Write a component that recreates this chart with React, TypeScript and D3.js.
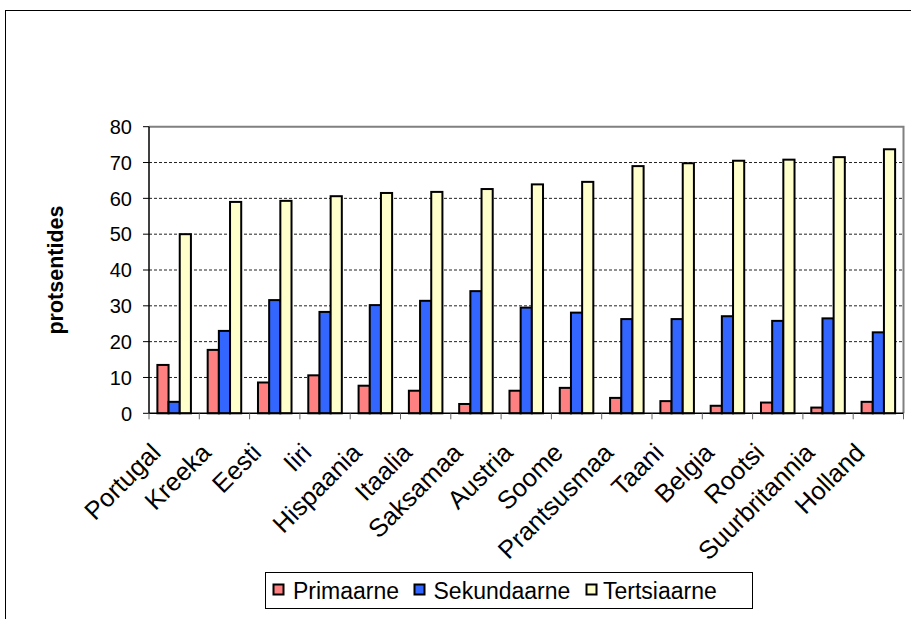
import React from 'react';
import * as d3 from 'd3';

const countries = [
  'Portugal', 'Kreeka', 'Eesti', 'Iiri', 'Hispaania', 'Itaalia', 'Saksamaa', 'Austria',
  'Soome', 'Prantsusmaa', 'Taani', 'Belgia', 'Rootsi', 'Suurbritannia', 'Holland',
];
const primaarne = [13.5, 17.7, 8.6, 10.6, 7.7, 6.3, 2.6, 6.3, 7.1, 4.3, 3.4, 2.1, 3.0, 1.6, 3.2];
const sekundaarne = [3.2, 23.0, 31.6, 28.3, 30.2, 31.4, 34.1, 29.5, 28.1, 26.3, 26.3, 27.1, 25.8, 26.5, 22.6];
const tertsiaarne = [50.0, 59.0, 59.3, 60.6, 61.5, 61.8, 62.6, 63.9, 64.6, 69.0, 69.8, 70.5, 70.8, 71.5, 73.7];
const seriesNames = ['Primaarne', 'Sekundaarne', 'Tertsiaarne'];
const seriesColors = ['#FF8080', '#3366FF', '#FFFFCC'];
const yTicks = [0, 10, 20, 30, 40, 50, 60, 70, 80];

const W = 911;
const H = 619;
const FONT = '"Liberation Sans", Arial, sans-serif';

export default function App() {
  const left = 149;
  const right = 903.5;
  const top = 126.7;
  const bottom = 413.3;

  const x = d3.scaleBand<string>().domain(countries).range([left, right]).padding(0);
  const inner = d3
    .scaleBand<string>()
    .domain(seriesNames)
    .range([0, x.bandwidth()])
    .paddingInner(0)
    .paddingOuter(0.75);
  const y = d3.scaleLinear().domain([0, 80]).range([bottom, top]);

  const values = [primaarne, sekundaarne, tertsiaarne];

  // legend layout
  const legItems = [
    { sw: 273.5, tx: 293 },
    { sw: 414.5, tx: 433.5 },
    { sw: 586.5, tx: 603 },
  ];

  return (
    <>
      <style>{'body{margin:0}'}</style>
      <svg width={W} height={H} style={{ display: 'block', fontFamily: FONT }}>
        <rect x={0} y={0} width={W} height={H} fill="#fff" />
        {/* outer chart border (cropped on the right and bottom) */}
        <rect x={5.5} y={10.5} width={W + 20} height={H + 20} fill="none" stroke="#000" />

        {/* gridlines */}
        {yTicks.slice(1, -1).map((t) => (
          <line
            key={t}
            x1={left}
            x2={right}
            y1={y(t)}
            y2={y(t)}
            stroke="#222"
            strokeDasharray="3,2"
            strokeWidth={1}
          />
        ))}
        {/* plot area top/right border */}
        <path
          d={`M${left},${y(80)}H${right}V${bottom}`}
          fill="none"
          stroke="#808080"
          strokeWidth={2}
        />

        {/* bars */}
        {countries.map((c, i) => (
          <g key={c} transform={`translate(${x(c)},0)`}>
            {seriesNames.map((s, j) => (
              <rect
                key={s}
                x={inner(s)}
                y={y(values[j][i])}
                width={inner.bandwidth()}
                height={bottom - y(values[j][i])}
                fill={seriesColors[j]}
                stroke="#000"
                strokeWidth={2}
              />
            ))}
          </g>
        ))}

        {/* y axis */}
        <line x1={left} x2={left} y1={top} y2={bottom} stroke="#000" strokeWidth={1.5} />
        {yTicks.map((t) => (
          <g key={t}>
            <line x1={left - 6} x2={left} y1={y(t)} y2={y(t)} stroke="#000" />
            <text
              x={132}
              y={y(t)}
              dy="0.36em"
              textAnchor="end"
              fontSize={20}
              fill="#000"
            >
              {t}
            </text>
          </g>
        ))}
        <text
          transform={`translate(63,${(top + bottom) / 2}) rotate(-90)`}
          textAnchor="middle"
          fontSize={21.5}
          fontWeight="bold"
        >
          protsentides
        </text>

        {/* x axis */}
        <line x1={left} x2={right} y1={bottom} y2={bottom} stroke="#000" strokeWidth={1.5} />
        {[...countries.map((c) => x(c) as number), right].map((v, i) => (
          <line key={i} x1={v} x2={v} y1={bottom} y2={bottom + 6} stroke="#666" />
        ))}
        {countries.map((c) => {
          const cx = (x(c) as number) + x.bandwidth() / 2;
          return (
            <text
              key={c}
              transform={`translate(${cx - 12},${bottom + 41}) rotate(-45)`}
              textAnchor="end"
              fontSize={25.5}
            >
              {c}
            </text>
          );
        })}

        {/* legend */}
        <rect x={265.5} y={572.5} width={487} height={36} fill="#fff" stroke="#000" />
        {seriesNames.map((s, j) => (
          <g key={s}>
            <rect
              x={legItems[j].sw}
              y={584.5}
              width={10}
              height={10}
              fill={seriesColors[j]}
              stroke="#000"
              strokeWidth={2}
            />
            <text x={legItems[j].tx} y={598.5} fontSize={23}>
              {s}
            </text>
          </g>
        ))}
      </svg>
    </>
  );
}
